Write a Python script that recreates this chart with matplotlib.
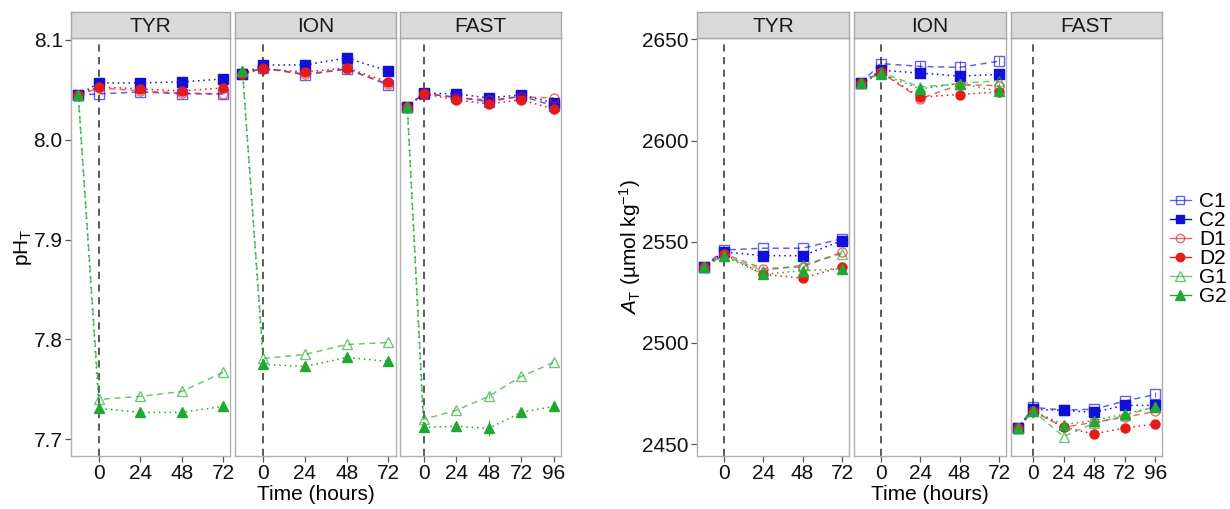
import matplotlib
matplotlib.use("Agg")
import matplotlib.pyplot as plt
from matplotlib.lines import Line2D

plt.rcParams['font.family'] = ['Liberation Sans', 'DejaVu Sans']
plt.rcParams['mathtext.fontset'] = 'custom'
plt.rcParams['mathtext.rm'] = 'Liberation Sans'
plt.rcParams['mathtext.it'] = 'Liberation Sans:italic'

# ---------------- data ----------------
facets = ["TYR", "ION", "FAST"]
series = ["C1", "C2", "D1", "D2", "G1", "G2"]
hours_tyr = [-12, 0, 24, 48, 72]
hours_ion = [-12, 0, 24, 48, 72]
hours_fast = [-12, 0, 24, 48, 72, 96]
ticks_tyr = [0, 24, 48, 72]
ticks_ion = [0, 24, 48, 72]
ticks_fast = [0, 24, 48, 72, 96]

ph_tyr = {
    "C1": [8.045, 8.046, 8.048, 8.046, 8.046],
    "C2": [8.045, 8.057, 8.057, 8.058, 8.061],
    "D1": [8.045, 8.052, 8.049, 8.047, 8.046],
    "D2": [8.045, 8.053, 8.051, 8.049, 8.052],
    "G1": [8.045, 7.740, 7.743, 7.748, 7.767],
    "G2": [8.045, 7.731, 7.727, 7.727, 7.733],
}
ph_ion = {
    "C1": [8.066, 8.072, 8.065, 8.071, 8.055],
    "C2": [8.066, 8.075, 8.075, 8.082, 8.069],
    "D1": [8.066, 8.072, 8.066, 8.071, 8.056],
    "D2": [8.066, 8.071, 8.068, 8.072, 8.058],
    "G1": [8.069, 7.781, 7.785, 7.795, 7.797],
    "G2": [8.069, 7.775, 7.773, 7.782, 7.778],
}
ph_fast = {
    "C1": [8.033, 8.046, 8.043, 8.038, 8.044, 8.034],
    "C2": [8.033, 8.047, 8.046, 8.042, 8.045, 8.037],
    "D1": [8.033, 8.047, 8.042, 8.040, 8.043, 8.042],
    "D2": [8.033, 8.046, 8.040, 8.036, 8.040, 8.031],
    "G1": [8.033, 7.720, 7.729, 7.743, 7.763, 7.777],
    "G2": [8.033, 7.712, 7.713, 7.711, 7.727, 7.733],
}
at_tyr = {
    "C1": [2537.6, 2545.9, 2546.8, 2546.8, 2551.5],
    "C2": [2537.6, 2545.0, 2543.1, 2543.1, 2550.6],
    "D1": [2537.6, 2544.1, 2536.7, 2537.6, 2545.0],
    "D2": [2537.6, 2544.1, 2533.9, 2532.0, 2537.6],
    "G1": [2537.6, 2543.1, 2535.7, 2538.5, 2544.1],
    "G2": [2537.6, 2543.1, 2533.9, 2535.7, 2536.7],
}
at_ion = {
    "C1": [2628.3, 2638.1, 2636.7, 2636.2, 2639.3],
    "C2": [2628.3, 2634.8, 2633.4, 2631.9, 2632.8],
    "D1": [2628.3, 2633.9, 2620.7, 2627.6, 2627.2],
    "D2": [2628.3, 2633.9, 2621.5, 2622.8, 2624.1],
    "G1": [2628.3, 2633.9, 2626.5, 2628.2, 2629.7],
    "G2": [2628.3, 2633.0, 2625.6, 2628.2, 2624.4],
}
at_fast = {
    "C1": [2457.9, 2468.1, 2466.8, 2467.2, 2471.2, 2474.5],
    "C2": [2457.9, 2467.2, 2466.6, 2465.7, 2469.1, 2469.1],
    "D1": [2457.9, 2466.3, 2458.3, 2460.7, 2463.2, 2466.2],
    "D2": [2457.9, 2466.3, 2458.3, 2455.0, 2457.9, 2459.9],
    "G1": [2457.9, 2466.3, 2453.7, 2460.3, 2464.1, 2468.5],
    "G2": [2457.9, 2466.3, 2459.6, 2461.6, 2464.9, 2468.1],
}
# visible error bars (half-widths); series not listed have negligible errors
ph_err_fast = {"G1": [0, 0, 0, 0.003, 0, 0], "G2": [0, 0, 0, 0.008, 0, 0]}
ph_err_ion = {"G2": [0, 0, 0, 0.004, 0]}
at_err_ion = {"C1": [0, 1.2, 2.0, 3.0, 1.8], "D1": [0, 0, 1.5, 1.2, 1.2]}
at_err_fast = {"C1": [0, 0, 0, 0, 0, 1.2]}

ph_yticks = [7.7, 7.8, 7.9, 8.0, 8.1]
ph_yticklabels = ["7.7", "7.8", "7.9", "8.0", "8.1"]
at_yticks = [2450, 2500, 2550, 2600, 2650]

# ---------------- styles ----------------
BLUE, RED, GREEN = "#1010d8", "#e41a1c", "#22a832"
styles = {
    "C1": dict(color=BLUE, marker="s", filled=False, ls=(0, (4, 3)), alpha=0.65),
    "C2": dict(color=BLUE, marker="s", filled=True, ls=(0, (1, 2.5)), alpha=1.0),
    "D1": dict(color=RED, marker="o", filled=False, ls=(0, (4, 3)), alpha=0.65),
    "D2": dict(color=RED, marker="o", filled=True, ls=(0, (1, 2.5)), alpha=1.0),
    "G1": dict(color=GREEN, marker="^", filled=False, ls=(0, (4, 3)), alpha=0.65),
    "G2": dict(color=GREEN, marker="^", filled=True, ls=(0, (1, 2.5)), alpha=1.0),
}

W, H = 1230, 509
fig = plt.figure(figsize=(W / 100, H / 100), dpi=100)


def px_axes(x0, y0, x1, y1):
    return fig.add_axes([x0 / W, 1 - y1 / H, (x1 - x0) / W, (y1 - y0) / H])


PANEL_TOP, PANEL_BOT, STRIP_TOP = 38, 456, 12
FS = 15


def draw_chart(panels_px, datasets, errsets, hours_list, ticks_list, ylim, yticks, ytlabels):
    axes = []
    for i, (fac, (x0, x1)) in enumerate(zip(facets, panels_px)):
        ax = px_axes(x0, PANEL_TOP, x1, PANEL_BOT)
        hrs = hours_list[i]
        span = max(hrs) - min(hrs)
        ax.set_xlim(min(hrs) - 0.05 * span, max(hrs) + 0.05 * span)
        ax.set_ylim(*ylim)
        ax.axvline(0, color="#4d4d4d", lw=1.3, ls=(0, (4, 3)), zorder=1)
        for s in series:
            st = styles[s]
            vals = datasets[i][s]
            ax.plot(hrs, vals, color=st["color"], ls=st["ls"], lw=1.1,
                    alpha=st["alpha"], zorder=2)
            if s in errsets[i]:
                ax.errorbar(hrs, vals, yerr=errsets[i][s], fmt="none",
                            ecolor=st["color"], elinewidth=0.8, capsize=0,
                            alpha=st["alpha"], zorder=2)
            ax.plot(hrs, vals, ls="none", marker=st["marker"],
                    ms=7.5 if st["marker"] == "^" else 6.5,
                    mfc=st["color"] if st["filled"] else "none",
                    mec=st["color"], mew=1.0, alpha=st["alpha"], zorder=3)
        ax.set_xticks(ticks_list[i])
        ax.set_xticklabels([str(t) for t in ticks_list[i]])
        if i == 0:
            ax.set_yticks(yticks)
            ax.set_yticklabels(ytlabels)
        else:
            ax.set_yticks([])
        ax.tick_params(axis="both", labelsize=FS, length=4, width=0.9,
                       color="#555555", labelcolor="#111111", pad=2)
        for sp in ax.spines.values():
            sp.set_color("#b0b0b0")
            sp.set_linewidth(1.0)
        # strip
        sax = px_axes(x0, STRIP_TOP, x1, PANEL_TOP)
        sax.set_facecolor("#d9d9d9")
        sax.set_xticks([])
        sax.set_yticks([])
        for sp in sax.spines.values():
            sp.set_color("#a8a8a8")
            sp.set_linewidth(1.0)
        sax.text(0.5, 0.45, fac, ha="center", va="center", fontsize=FS,
                 color="#1a1a1a", transform=sax.transAxes)
        axes.append(ax)
    return axes


left_panels = [(71, 230.5), (235.2, 395.6), (400, 561)]
right_panels = [(697, 849), (854, 1006), (1011, 1162)]

draw_chart(left_panels, [ph_tyr, ph_ion, ph_fast], [{}, ph_err_ion, ph_err_fast],
           [hours_tyr, hours_ion, hours_fast],
           [ticks_tyr, ticks_ion, ticks_fast], (7.6833, 8.102), ph_yticks, ph_yticklabels)
draw_chart(right_panels, [at_tyr, at_ion, at_fast], [{}, at_err_ion, at_err_fast],
           [hours_tyr, hours_ion, hours_fast],
           [ticks_tyr, ticks_ion, ticks_fast], (2444.07, 2650.74), at_yticks,
           [str(v) for v in at_yticks])

# axis titles
fig.text(315.4 / W, 1 - 494 / H, "Time (hours)", ha="center", va="center", fontsize=FS)
fig.text(930 / W, 1 - 494 / H, "Time (hours)", ha="center", va="center", fontsize=FS)
fig.text(23 / W, 1 - 247 / H, r"pH$_\mathregular{T}$", ha="center", va="center",
         rotation=90, fontsize=FS)
fig.text(630 / W, 1 - 247 / H, r"$\mathit{A}_\mathregular{T}$ (µmol kg$^{-1}$)",
         ha="center", va="center", rotation=90, fontsize=FS)

# legend
handles = []
for s in series:
    st = styles[s]
    handles.append(Line2D([0], [0], color=st["color"], ls="-", lw=1.0, alpha=st["alpha"],
                          marker=st["marker"], ms=6 if st["marker"] != "^" else 7,
                          mfc=st["color"] if st["filled"] else "none",
                          mec=st["color"], mew=1.0))
fig.legend(handles, series, loc="center left", bbox_to_anchor=(1170 / W, 1 - 249 / H),
           frameon=False, fontsize=FS, handlelength=1.0, handletextpad=0.4,
           labelspacing=0.0, borderaxespad=0, borderpad=0)

fig.savefig("out.png", dpi=100)
